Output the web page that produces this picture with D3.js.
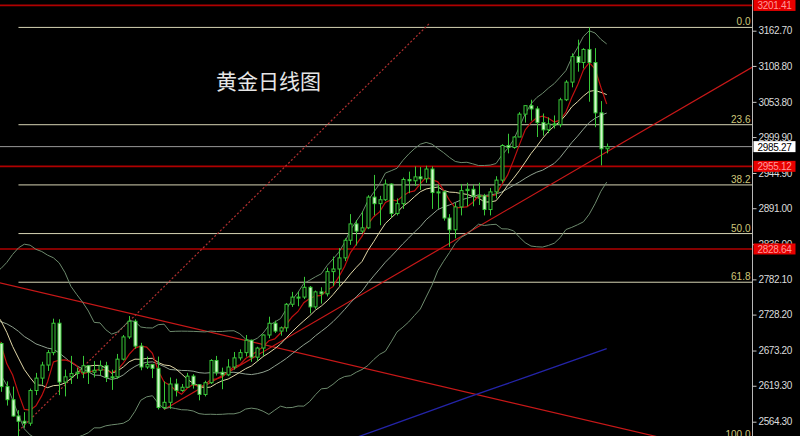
<!DOCTYPE html>
<html><head><meta charset="utf-8">
<script src="https://cdn.jsdelivr.net/npm/d3@7"></script>
<style>html,body{margin:0;padding:0;background:#000;overflow:hidden}</style>
</head><body><svg id="c" width="800" height="436"></svg>
<script>
// ---- data (XAUUSD daily) ----
const dates = ["11-11","11-12","11-13","11-14","11-15","11-18","11-19","11-20","11-21","11-22","11-25","11-26","11-27","11-28","11-29",
"12-02","12-03","12-04","12-05","12-06","12-09","12-10","12-11","12-12","12-13","12-16","12-17","12-18","12-19","12-20","12-23","12-24","12-26","12-27","12-30","12-31",
"01-02","01-03","01-06","01-07","01-08","01-09","01-10","01-13","01-14","01-15","01-16","01-17","01-20","01-21","01-22","01-23","01-24","01-27","01-28","01-29","01-30","01-31",
"02-03","02-04","02-05","02-06","02-07","02-10","02-11","02-12","02-13","02-14","02-17","02-18","02-19","02-20","02-21","02-24","02-25","02-26","02-27","02-28",
"03-03","03-04","03-05","03-06","03-07","03-10","03-11","03-12","03-13","03-14","03-17","03-18","03-19","03-20","03-21","03-24","03-25","03-26","03-27","03-28","03-31",
"04-01","04-02","04-03","04-04","04-07","04-08"];
const opens = [2684,2618,2598,2573,2565,2562,2612,2631,2651,2670,2715,2625,2633,2638,2640,
2650,2640,2643,2650,2632,2633,2660,2694,2718,2680,2648,2652,2646,2586,2594,2622,2612,2617,2634,2621,2606,
2624,2658,2640,2636,2648,2662,2670,2689,2663,2677,2697,2715,2703,2708,2744,2755,2755,2770,2740,2763,2760,2794,
2798,2815,2842,2867,2856,2861,2908,2898,2904,2928,2883,2898,2935,2933,2939,2936,2951,2915,2916,2876,
2858,2893,2918,2920,2910,2910,2889,2916,2934,2987,2984,3000,3035,3048,3043,3022,3011,3020,3019,3057,3084,
3123,3114,3134,3114,3037,2982];
const highs = [2686,2626,2618,2582,2579,2615,2639,2656,2674,2722,2721,2644,2665,2647,2665,
2651,2657,2658,2656,2644,2668,2697,2726,2721,2685,2664,2652,2664,2626,2632,2630,2622,2639,2637,2622,2627,
2660,2665,2647,2660,2671,2675,2697,2690,2679,2698,2725,2719,2710,2746,2763,2763,2786,2772,2765,2770,2800,2817,
2830,2845,2882,2873,2886,2911,2942,2910,2935,2929,2906,2938,2947,2955,2954,2956,2955,2927,2918,2882,
2900,2928,2930,2927,2930,2913,2922,2940,2989,3005,3001,3038,3048,3057,3047,3036,3030,3033,3060,3087,3128,
3149,3136,3167.74,3136,3055,2990];
const lows = [2610,2589,2572,2536.69,2555,2558,2605,2621,2642,2666,2605,2603,2622,2630,2631,
2622,2632,2635,2625,2613,2630,2658,2691,2676,2643,2645,2631,2583,2583,2584,2603,2610,2616,2615,2597,2603,
2622,2635,2614,2634,2644,2658,2664,2656,2657,2665,2692,2700,2696,2702,2740,2741,2752,2730,2737,2745,2756,2772,
2772,2810,2835,2834,2853,2859,2880,2865,2902,2877,2880,2890,2914,2925,2919,2930,2890,2890,2872,2832,
2845,2880,2894,2894,2896,2880,2880,2906,2930,2975,2982,3000,3022,3025,3000,3002,3006,3013,3015,3055,3076,
3100,3105,3054,3015,2956.6,2975];
const closes = [2618,2598,2573,2565,2562,2612,2631,2651,2670,2715,2625,2633,2638,2640,2650,
2640,2643,2650,2632,2633,2660,2694,2718,2680,2648,2652,2646,2586,2594,2622,2612,2617,2634,2621,2606,2624,
2658,2640,2636,2648,2662,2670,2689,2663,2677,2697,2715,2703,2708,2744,2755,2755,2770,2740,2763,2760,2794,2798,
2815,2842,2867,2856,2861,2908,2898,2904,2928,2883,2898,2935,2933,2939,2936,2951,2915,2916,2876,2858,
2893,2918,2920,2910,2910,2889,2916,2934,2987,2984,3000,3035,3048,3043,3022,3011,3020,3019,3057,3084,3123,
3114,3134,3114,3037,2982,2985.27];
// closes before the first visible bar (Oct 14 - Nov 8), used for the averages
const preCloses = [2649,2662,2674,2693,2721,2720,2748,2715,2736,2747,2743,2774,2788,2744,2736,2736,2742,2658,2706,2684];

const yTicks = [3162.70,3108.80,3053.80,2999.90,2944.90,2891.00,2836.00,2782.10,2728.20,2673.20,2619.30,2564.30];
const fibLevels = [0.0, 23.6, 38.2, 50.0, 61.8, 100.0];
const fibHigh = 3167.74, fibLow = 2536.69, fibStartIdx = 3;
const redLevels = [3201.41, 2955.12, 2828.64];
const lastPrice = 2985.27;
const trendUp = [{i:28, p:2583}, {i:105.15, p:2983.2}];
const trendDown = [{i:-0.17, p:2776.6}, {i:102.9, p:2561.7}];
const trendDotted = [{i:3, p:2550}, {i:73.7, p:3175}];
const longMA = [[60,2537],[70,2569],[80,2601],[90,2632],[104,2676]];
const titleText = "黄金日线图";

// ---- layout ----
const W = 800, H = 436, plotR = 752.5;
const svg = d3.select("#c");
svg.append("rect").attr("width", W).attr("height", H).attr("fill", "#000");
const x = d3.scaleLinear().domain([0, 104]).range([1, 606.7]);
const y = d3.scaleLinear().domain([2564.3, 3162.7]).range([421.7, 30.7]);

svg.append("defs").append("clipPath").attr("id", "plot")
  .append("rect").attr("x", 0).attr("y", 0).attr("width", plotR).attr("height", H);
const g = svg.append("g").attr("clip-path", "url(#plot)");

// indicators
const all = preCloses.concat(closes), off = preCloses.length;
function sma(n) {
  const out = [];
  for (let k = n - 1; k < all.length; k++) {
    const s = all.slice(k - n + 1, k + 1);
    out.push({i: k - off, v: d3.mean(s), sd: d3.deviation(s) * Math.sqrt((n - 1) / n)});
  }
  return out;
}
const ma5 = sma(5), ma10 = sma(10), ma20 = sma(20);
const line = d3.line().x(d => x(d.i)).y(d => y(d.v));

// horizontal levels
redLevels.forEach(p => g.append("line").attr("x1", 0).attr("x2", plotR).attr("y1", y(p)).attr("y2", y(p))
  .attr("stroke", "#b00000").attr("stroke-width", 1.6));
g.append("line").attr("x1", 0).attr("x2", plotR).attr("y1", y(lastPrice)).attr("y2", y(lastPrice))
  .attr("stroke", "#9a9a9a").attr("stroke-width", 1);

// fibonacci
fibLevels.forEach(l => {
  const p = fibHigh - (fibHigh - fibLow) * l / 100;
  g.append("line").attr("x1", x(fibStartIdx)).attr("x2", plotR).attr("y1", y(p)).attr("y2", y(p))
    .attr("stroke", "#d6d4b4").attr("stroke-width", 1);
  g.append("text").attr("x", plotR - 2).attr("y", y(p) - 2).attr("text-anchor", "end")
    .attr("font-family", "Liberation Sans, Arial, sans-serif").attr("font-size", 10)
    .attr("fill", "#cfc77a").text(l.toFixed(1));
});

// trend lines
function ray(pts, extendLeft) {
  const x1 = x(pts[0].i), y1 = y(pts[0].p), x2 = x(pts[1].i), y2 = y(pts[1].p);
  const m = (y2 - y1) / (x2 - x1);
  const xa = extendLeft ? -10 : x1, xb = 820;
  return [xa, y1 + m * (xa - x1), xb, y1 + m * (xb - x1)];
}
[[trendDown, true], [trendUp, false]].forEach(([t, e]) => {
  const r = ray(t, e);
  g.append("line").attr("x1", r[0]).attr("y1", r[1]).attr("x2", r[2]).attr("y2", r[3])
    .attr("stroke", "#c81818").attr("stroke-width", 1.2);
});
g.append("line").attr("x1", x(trendDotted[0].i)).attr("y1", y(trendDotted[0].p))
  .attr("x2", x(trendDotted[1].i)).attr("y2", y(trendDotted[1].p))
  .attr("stroke", "#b03030").attr("stroke-width", 1.2).attr("stroke-dasharray", "2,2");

// long average (blue)
g.append("path").datum(longMA.map(d => ({i: d[0], v: d[1]}))).attr("d", d3.line().x(d => x(d.i)).y(d => y(d.v)).curve(d3.curveMonotoneX))
  .attr("fill", "none").attr("stroke", "#2424a8").attr("stroke-width", 1.3);

// bollinger bands
const bbCol = "#6d8a6d";
g.append("path").datum(ma20.map(d => ({i: d.i, v: d.v + 2 * d.sd}))).attr("d", line).attr("fill", "none").attr("stroke", bbCol);
g.append("path").datum(ma20.map(d => ({i: d.i, v: d.v - 2 * d.sd}))).attr("d", line).attr("fill", "none").attr("stroke", bbCol);
g.append("path").datum(ma20).attr("d", line).attr("fill", "none").attr("stroke", "#8fa08f");
g.append("path").datum(ma10).attr("d", line).attr("fill", "none").attr("stroke", "#e2d8a8").attr("stroke-width", 1);
g.append("path").datum(ma5).attr("d", line).attr("fill", "none").attr("stroke", "#c01010").attr("stroke-width", 1.2);

// candles
const candleCol = "#38c838";
const cg = g.append("g");
closes.forEach((c, i) => {
  const o = opens[i], cx = Math.round(x(i)) + 0.5;
  cg.append("line").attr("x1", cx).attr("x2", cx).attr("y1", y(highs[i])).attr("y2", y(lows[i]))
    .attr("stroke", candleCol).attr("stroke-width", 1);
  const top = y(Math.max(o, c)), bot = y(Math.min(o, c));
  cg.append("rect").attr("x", cx - 1.5).attr("width", 3).attr("y", top).attr("height", Math.max(1, bot - top))
    .attr("fill", c >= o ? "#000" : "#d4f5cc").attr("stroke", candleCol).attr("stroke-width", 1);
});

// title
svg.append("text").attr("x", 216).attr("y", 89).attr("font-family", "Noto Sans CJK SC, sans-serif")
  .attr("font-size", 21).attr("fill", "#e6e6e6").text(titleText);

// price axis
svg.append("line").attr("x1", plotR).attr("x2", plotR).attr("y1", 0).attr("y2", H).attr("stroke", "#b8b8b8");
const ax = svg.append("g").attr("transform", `translate(${plotR},0)`)
  .call(d3.axisRight(y).tickValues(yTicks).tickFormat(d3.format(".2f")).tickSize(4).tickPadding(2));
ax.select(".domain").remove();
ax.selectAll(".tick line").attr("stroke", "#c8c8c8");
ax.selectAll(".tick text").attr("fill", "#dcdcdc").attr("font-family", "Liberation Sans, Arial, sans-serif")
  .attr("font-size", 10).attr("letter-spacing", "-0.4px");

// price tags
function tag(p, bg, fg) {
  const yy = y(p);
  svg.append("rect").attr("x", plotR + 1).attr("y", yy - 5.5).attr("width", 42).attr("height", 11).attr("fill", bg);
  svg.append("text").attr("x", plotR + 5).attr("y", yy + 4).attr("font-family", "Liberation Sans, Arial, sans-serif")
    .attr("font-size", 10).attr("letter-spacing", "-0.3px").attr("fill", fg).text(p.toFixed(2));
}
redLevels.forEach(p => tag(p, "#e80000", "#ff9a9a"));
tag(lastPrice, "#ffffff", "#000000");
</script></body></html>
